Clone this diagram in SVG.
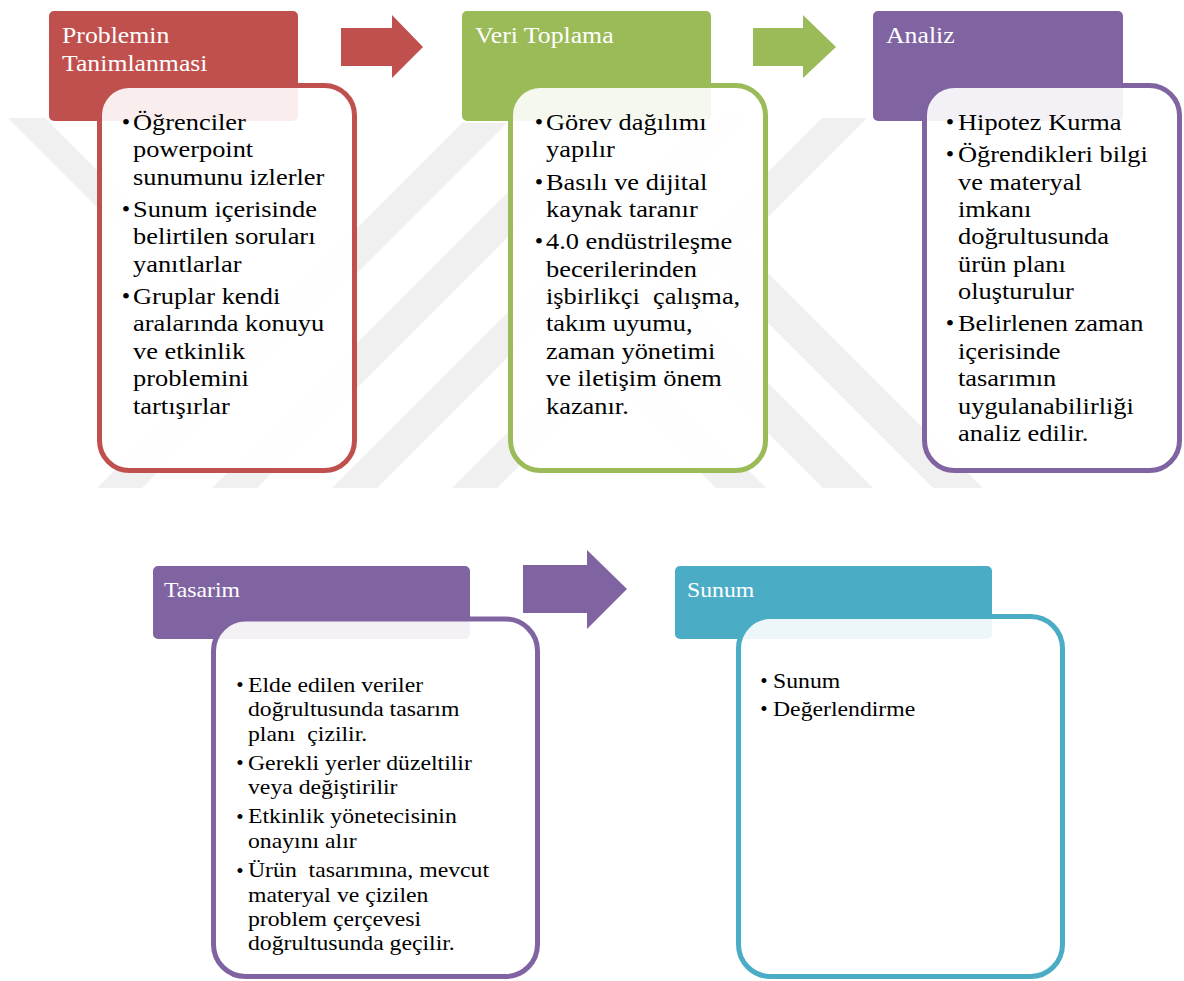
<svg xmlns="http://www.w3.org/2000/svg" width="1184" height="981" viewBox="0 0 1184 981">
<style>
  .wm { fill: #f0f0f0; }
  .hdr { stroke: #ffffff; stroke-width: 2; }
  .body { fill: #ffffff; fill-opacity: 0.9; stroke-width: 5; }
  .ht { font-family: 'Liberation Serif', 'Times New Roman', serif; fill: #ffffff; white-space: pre; }
  .bt { font-family: 'Liberation Serif', 'Times New Roman', serif; fill: #000000; white-space: pre; }
  .bl { font-family: 'Liberation Serif', 'Times New Roman', serif; fill: #000000; text-anchor: middle; }
  .red { fill: #C0504D; } .redS { stroke: #C0504D; }
  .green { fill: #9BBB59; } .greenS { stroke: #9BBB59; }
  .purple { fill: #8064A2; } .purpleS { stroke: #8064A2; }
  .teal { fill: #4BACC6; } .tealS { stroke: #4BACC6; }
</style>
<defs>
  <clipPath id="wmclip"><rect x="0" y="118" width="1184" height="370"/></clipPath>
</defs>
<rect width="1184" height="981" fill="#ffffff"/>

<g id="watermark" clip-path="url(#wmclip)">
  <polygon class="wm" points="-15,600 585,0 630,0 30,600"/>
  <polygon class="wm" points="100,600 700,0 745,0 145,600"/>
  <polygon class="wm" points="220,600 820,0 865,0 265,600"/>
  <polygon class="wm" points="340,600 940,0 985,0 385,600"/>
  <polygon class="wm" points="703.5,258.5 728.5,233.5 1095,600 1045,600"/>
  <polygon class="wm" points="648.5,313.5 673.5,288.5 985,600 935,600"/>
  <polygon class="wm" points="595,367 620,342 878,600 828,600"/>
  <polygon class="wm" points="-110,0 -73,0 267,340 248.5,358.5"/>
</g>

<g id="connectors">
  <polygon class="red" points="341,28 392,28 392,15 423,47 392,78 392,66 341,66"/>
  <polygon class="green" points="753,28 803,28 803,15 836,47 803,78 803,66 753,66"/>
  <polygon class="purple" points="523,565 587,565 587,550 627,589 587,629 587,613 523,613"/>
</g>

<g id="node-problem">
  <rect class="hdr red" x="48" y="10" width="251" height="112" rx="6"/>
  <g transform="translate(62,0) scale(1.12,1)">
    <text class="ht" font-size="23" x="0" y="43">Problemin</text>
    <text class="ht" font-size="23" x="0" y="71">Tanimlanmasi</text>
  </g>
  <rect class="body redS" x="99.5" y="85.5" width="255" height="385" rx="30"/>
  <text class="bl" font-size="24" x="126" y="130">•</text>
  <text class="bl" font-size="24" x="126" y="217">•</text>
  <text class="bl" font-size="24" x="126" y="304">•</text>
  <g transform="translate(133,0) scale(1.1,1)" font-size="24">
    <text class="bt" x="0" y="130">Öğrenciler</text>
    <text class="bt" x="0" y="157.4">powerpoint</text>
    <text class="bt" x="0" y="184.8">sunumunu izlerler</text>
    <text class="bt" x="0" y="217">Sunum içerisinde</text>
    <text class="bt" x="0" y="244.4">belirtilen soruları</text>
    <text class="bt" x="0" y="271.8">yanıtlarlar</text>
    <text class="bt" x="0" y="304">Gruplar kendi</text>
    <text class="bt" x="0" y="331.4">aralarında konuyu</text>
    <text class="bt" x="0" y="358.8">ve etkinlik</text>
    <text class="bt" x="0" y="386.2">problemini</text>
    <text class="bt" x="0" y="413.6">tartışırlar</text>
  </g>
</g>

<g id="node-veri">
  <rect class="hdr green" x="461" y="10" width="251" height="112" rx="6"/>
  <g transform="translate(475,0) scale(1.12,1)">
    <text class="ht" font-size="23" x="0" y="43">Veri Toplama</text>
  </g>
  <rect class="body greenS" x="510.5" y="85.5" width="255" height="385" rx="30"/>
  <text class="bl" font-size="24" x="539" y="130">•</text>
  <text class="bl" font-size="24" x="539" y="189.6">•</text>
  <text class="bl" font-size="24" x="539" y="249.2">•</text>
  <g transform="translate(546,0) scale(1.1,1)" font-size="24">
    <text class="bt" x="0" y="130">Görev dağılımı</text>
    <text class="bt" x="0" y="157.4">yapılır</text>
    <text class="bt" x="0" y="189.6">Basılı ve dijital</text>
    <text class="bt" x="0" y="217">kaynak taranır</text>
    <text class="bt" x="0" y="249.2">4.0 endüstrileşme</text>
    <text class="bt" x="0" y="276.6">becerilerinden</text>
    <text class="bt" x="0" y="304">işbirlikçi  çalışma,</text>
    <text class="bt" x="0" y="331.4">takım uyumu,</text>
    <text class="bt" x="0" y="358.8">zaman yönetimi</text>
    <text class="bt" x="0" y="386.2">ve iletişim önem</text>
    <text class="bt" x="0" y="413.6">kazanır.</text>
  </g>
</g>

<g id="node-analiz">
  <rect class="hdr purple" x="872" y="10" width="252" height="112" rx="6"/>
  <g transform="translate(886,0) scale(1.12,1)">
    <text class="ht" font-size="23" x="0" y="43">Analiz</text>
  </g>
  <rect class="body purpleS" x="924.5" y="85.5" width="255" height="385" rx="30"/>
  <text class="bl" font-size="24" x="950" y="130">•</text>
  <text class="bl" font-size="24" x="950" y="162.2">•</text>
  <text class="bl" font-size="24" x="950" y="331.4">•</text>
  <g transform="translate(958,0) scale(1.1,1)" font-size="24">
    <text class="bt" x="0" y="130">Hipotez Kurma</text>
    <text class="bt" x="0" y="162.2">Öğrendikleri bilgi</text>
    <text class="bt" x="0" y="189.6">ve materyal</text>
    <text class="bt" x="0" y="217">imkanı</text>
    <text class="bt" x="0" y="244.4">doğrultusunda</text>
    <text class="bt" x="0" y="271.8">ürün planı</text>
    <text class="bt" x="0" y="299.2">oluşturulur</text>
    <text class="bt" x="0" y="331.4">Belirlenen zaman</text>
    <text class="bt" x="0" y="358.8">içerisinde</text>
    <text class="bt" x="0" y="386.2">tasarımın</text>
    <text class="bt" x="0" y="413.6">uygulanabilirliği</text>
    <text class="bt" x="0" y="441">analiz edilir.</text>
  </g>
</g>

<g id="node-tasarim">
  <rect class="hdr purple" x="152" y="565" width="319" height="75" rx="6"/>
  <g transform="translate(164,0) scale(1.13,1)">
    <text class="ht" font-size="21" x="0" y="597">Tasarim</text>
  </g>
  <rect class="body purpleS" x="213.5" y="619" width="324" height="357.5" rx="32"/>
  <text class="bl" font-size="21" x="240" y="692">•</text>
  <text class="bl" font-size="21" x="240" y="770">•</text>
  <text class="bl" font-size="21" x="240" y="823.5">•</text>
  <text class="bl" font-size="21" x="240" y="877.5">•</text>
  <g transform="translate(248,0) scale(1.13,1)" font-size="21">
    <text class="bt" x="0" y="692">Elde edilen veriler</text>
    <text class="bt" x="0" y="716.3">doğrultusunda tasarım</text>
    <text class="bt" x="0" y="740.6">planı  çizilir.</text>
    <text class="bt" x="0" y="770">Gerekli yerler düzeltilir</text>
    <text class="bt" x="0" y="794.3">veya değiştirilir</text>
    <text class="bt" x="0" y="823.5">Etkinlik yönetecisinin</text>
    <text class="bt" x="0" y="847.8">onayını alır</text>
    <text class="bt" x="0" y="877.5">Ürün  tasarımına, mevcut</text>
    <text class="bt" x="0" y="901.8">materyal ve çizilen</text>
    <text class="bt" x="0" y="926.1">problem çerçevesi</text>
    <text class="bt" x="0" y="950.4">doğrultusunda geçilir.</text>
  </g>
</g>

<g id="node-sunum">
  <rect class="hdr teal" x="674" y="565" width="319" height="75" rx="6"/>
  <g transform="translate(687,0) scale(1.13,1)">
    <text class="ht" font-size="21" x="0" y="597">Sunum</text>
  </g>
  <rect class="body tealS" x="738.5" y="616.5" width="324" height="360" rx="32"/>
  <text class="bl" font-size="21" x="764" y="688">•</text>
  <text class="bl" font-size="21" x="764" y="716">•</text>
  <g transform="translate(773,0) scale(1.13,1)" font-size="21">
    <text class="bt" x="0" y="688">Sunum</text>
    <text class="bt" x="0" y="716">Değerlendirme</text>
  </g>
</g>
</svg>
